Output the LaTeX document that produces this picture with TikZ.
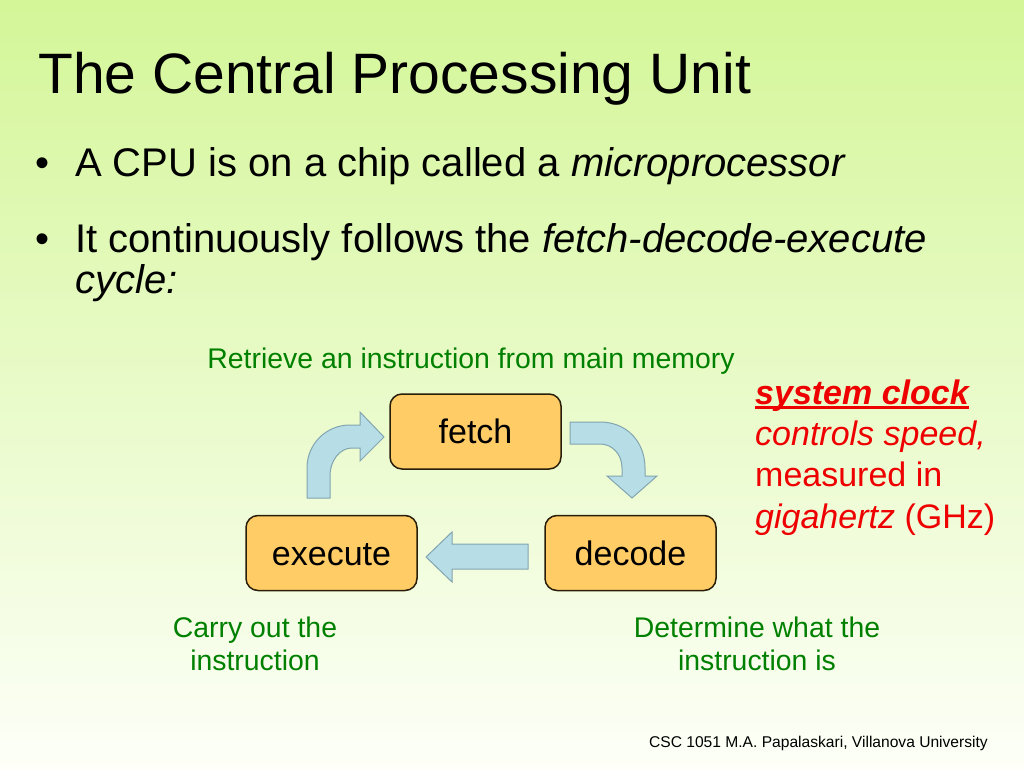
\documentclass[tikz,border=0pt]{standalone}
\usepackage{fontspec}
\setmainfont{Liberation Sans}
\begin{document}
\definecolor{bgtop}{RGB}{212,246,152}
\definecolor{bgmid}{RGB}{236,251,208}
\definecolor{bgbot}{RGB}{253,255,248}
\definecolor{boxfill}{RGB}{255,204,102}
\definecolor{boxline}{RGB}{40,30,10}
\definecolor{arrfill}{RGB}{183,221,230}
\definecolor{arrline}{RGB}{130,165,175}
\definecolor{labgreen}{RGB}{0,128,0}
\definecolor{clockred}{RGB}{238,0,0}
\begin{tikzpicture}[x=1pt,y=-1pt,
  stagebox/.style={draw=boxline,line width=1.5pt,fill=boxfill,rounded corners=12pt,
    minimum width=171pt,minimum height=75pt,inner sep=0pt,
    font=\fontsize{34}{40}\selectfont,text height=24.5pt,text depth=0pt},
  blockarrow/.style={draw=arrline,line width=1pt,fill=arrfill,line join=miter},
  greenlab/.style={text=labgreen,font=\fontsize{28.4}{32.7}\selectfont,inner sep=0pt},
  redline/.style={text=clockred,font=\fontsize{34}{40}\selectfont,inner sep=0pt,anchor=base west},
  plain/.style={inner sep=0pt,anchor=base west}]
\useasboundingbox (0,0) rectangle (1024,768);
\shade[top color=bgtop,middle color=bgmid,bottom color=bgbot,shading angle=0] (0,0) rectangle (1024,768);
% title and bullets
\node[plain] (title) at (38,93) {\fontsize{57}{68}\selectfont The Central Processing Unit};
\node[plain] (b1dot) at (35,176) {\fontsize{40}{46}\selectfont •};
\node[plain] (b1) at (75,176) {\fontsize{40}{46}\selectfont A CPU is on a chip called a \textit{microprocessor}};
\node[plain] (b2dot) at (35,252) {\fontsize{40}{46}\selectfont •};
\node[plain] (b2) at (75,252) {\fontsize{40}{46}\selectfont It continuously follows the \textit{fetch-decode-execute}};
\node[plain] (b2b) at (75,293) {\fontsize{40}{46}\selectfont \textit{cycle:}};
% stages
\node[stagebox] (fetch) at (475.5,431.5) {fetch};
\node[stagebox] (execute) at (331.5,553) {execute};
\node[stagebox] (decode) at (630.5,553) {decode};
% block arrows
\draw[blockarrow] (528,544) -- (452,544) -- (452,532) -- (426,557) -- (452,582) -- (452,569) -- (528,569) -- cycle;
\draw[blockarrow] (307,498) -- (307,468) .. controls (307,444) and (326,425) .. (350,425) -- (360,425) -- (360,412) -- (384,437) -- (360,461) -- (360,448) -- (352,448) .. controls (339,448) and (330,462) .. (330,475) -- (330,498) -- cycle;
\draw[blockarrow] (570,422) -- (600,422) .. controls (627,422) and (645,442) .. (645,468) -- (645,476) -- (657,476) -- (632,498) -- (607,476) -- (622,476) -- (622,468) .. controls (622,454) and (612,444) .. (600,444) -- (570,444) -- cycle;
% green labels
\node[greenlab,anchor=base] (retrieve) at (471,368) {Retrieve an instruction from main memory};
\node[greenlab,anchor=base] (carry1) at (255,637) {Carry out the};
\node[greenlab,anchor=base] (carry2) at (255,670) {instruction};
\node[greenlab,anchor=base] (det1) at (757,637) {Determine what the};
\node[greenlab,anchor=base] (det2) at (757,670) {instruction is};
% red clock text
\node[redline] (sc) at (755,404) {\bfseries\itshape system clock};
\draw[clockred,line width=2.4pt] ([yshift=-3.5pt]sc.base west) -- ([yshift=-3.5pt]sc.base east);
\node[redline] (cs) at (755,445) {\itshape controls speed,};
\node[redline] (mi) at (755,486) {measured in};
\node[redline] (gh) at (755,528) {\itshape gigahertz\upshape{} (GHz)};
% footer
\node[inner sep=0pt,anchor=base east] (footer) at (988,747) {\fontsize{15.6}{18}\selectfont CSC 1051 M.A. Papalaskari, Villanova University};
\end{tikzpicture}
\end{document}
